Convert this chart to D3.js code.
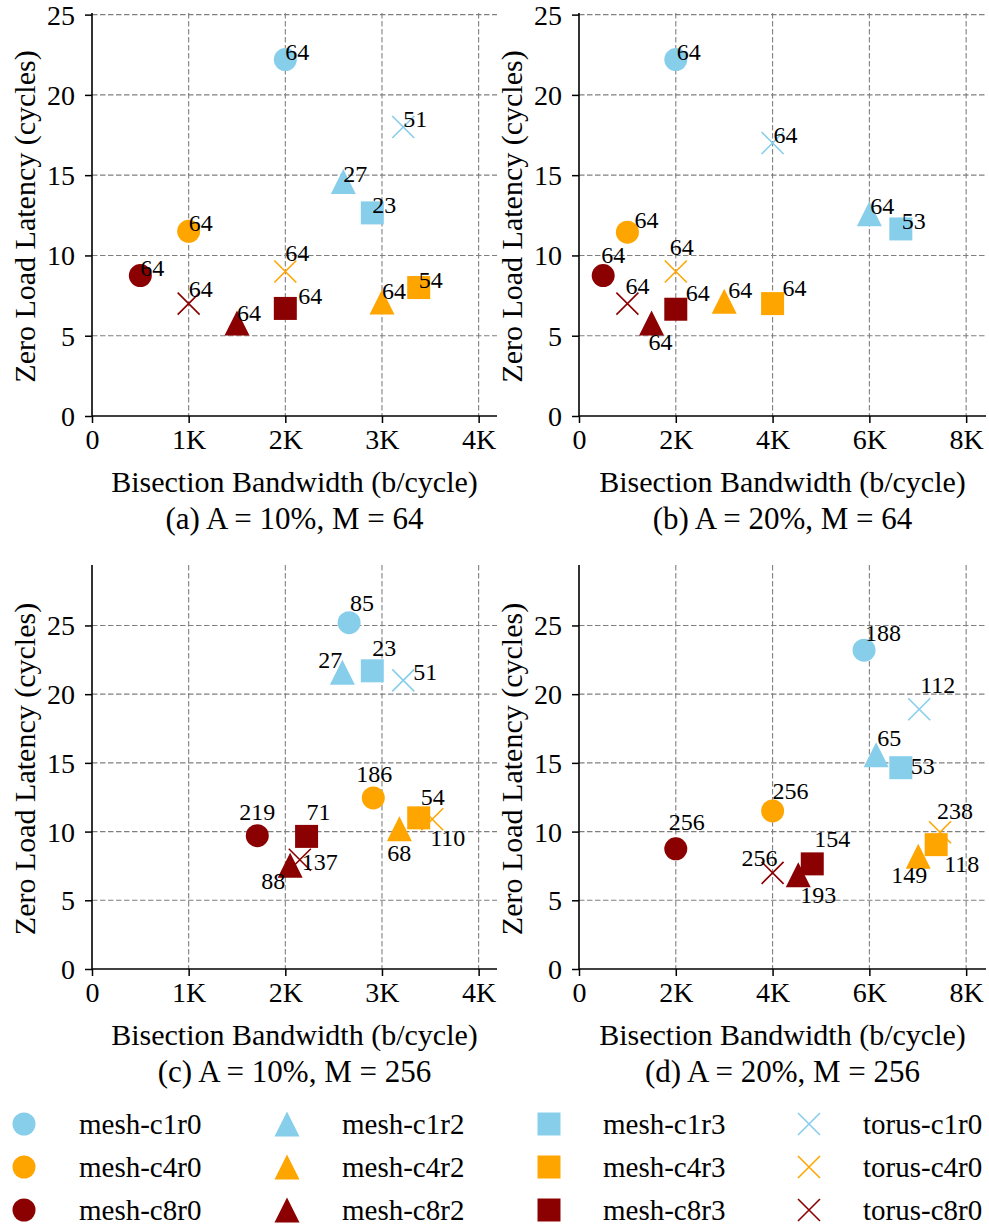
<!DOCTYPE html>
<html>
<head>
<meta charset="utf-8">
<script src="https://cdn.jsdelivr.net/npm/d3@7"></script>
<style>
  html, body { margin: 0; padding: 0; background: #fff; }
  svg { display: block; font-family: "Liberation Serif", "Times New Roman", serif; }
</style>
</head>
<body>
<svg id="chart" width="989" height="1226"></svg>
<script>
// series, in legend order (column by column)
const seriesNames = [
  'mesh-c1r0', 'mesh-c4r0', 'mesh-c8r0',
  'mesh-c1r2', 'mesh-c4r2', 'mesh-c8r2',
  'mesh-c1r3', 'mesh-c4r3', 'mesh-c8r3',
  'torus-c1r0', 'torus-c4r0', 'torus-c8r0'
];
const seriesColors = [
  '#87ceeb', '#ffa500', '#8b0000',
  '#87ceeb', '#ffa500', '#8b0000',
  '#87ceeb', '#ffa500', '#8b0000',
  '#87ceeb', '#ffa500', '#8b0000'
];
const seriesShapes = [
  'circle', 'circle', 'circle',
  'triangle', 'triangle', 'triangle',
  'square', 'square', 'square',
  'cross', 'cross', 'cross'
];

// (a) A = 10%, M = 64
const bwA  = [2000, 1000, 500, 2600, 3000, 1500, 2900, 3380, 2000, 3220, 2000, 1000];
const latA = [22.2, 11.5, 8.75, 14.6, 7.1, 5.8, 12.65, 8.0, 6.7, 18.0, 9.0, 7.0];
const numA = [64, 64, 64, 27, 64, 64, 23, 54, 64, 51, 64, 64];

// (b) A = 20%, M = 64
const bwB  = [2000, 1000, 500, 6000, 3000, 1500, 6650, 4000, 2000, 4000, 2000, 1000];
const latB = [22.2, 11.45, 8.75, 12.6, 7.15, 5.8, 11.65, 7.0, 6.65, 17.0, 9.0, 7.0];
const numB = [64, 64, 64, 64, 64, 64, 53, 64, 64, 64, 64, 64];

// (c) A = 10%, M = 256
const bwC  = [2660, 2910, 1710, 2590, 3180, 2050, 2900, 3380, 2220, 3220, 3520, 2150];
const latC = [25.2, 12.45, 9.7, 21.6, 10.2, 7.55, 21.7, 11.0, 9.65, 21.0, 10.9, 7.95];
const numC = [85, 186, 219, 27, 68, 88, 23, 54, 71, 51, 110, 137];

// (d) A = 20%, M = 256
const bwD  = [5890, 4000, 2000, 6140, 7010, 4530, 6650, 7380, 4820, 7030, 7460, 4000];
const latD = [23.2, 11.5, 8.75, 15.6, 8.2, 6.85, 14.65, 9.05, 7.65, 18.9, 9.95, 7.0];
const numD = [188, 256, 256, 65, 149, 193, 53, 118, 154, 112, 238, 256];

const captions = [
  '(a) A = 10%, M = 64', '(b) A = 20%, M = 64',
  '(c) A = 10%, M = 256', '(d) A = 20%, M = 256'
];
const xTicksNarrow = [0, 1000, 2000, 3000, 4000];
const xTicksWide = [0, 2000, 4000, 6000, 8000];
const yTicks = [0, 5, 10, 15, 20, 25];
const xLimits = [4190, 8410, 4190, 8410];
const yLimits = [25.1, 25.1, 29.4, 29.4];

// label nudges in px (dx, dy) so the numbers don't sit on the markers
const nudgeA = [[0,0],[0,0],[0,0],[0,0],[0,-3],[0,-2],[0,0],[0,0],[13,-4],[0,0],[0,-10],[0,-7]];
const nudgeB = [[1,0],[7,-4],[-2,-13],[1,0],[4,-3],[-3,27],[1,0],[10,-8],[10,-8],[1,0],[-6,-16],[-2,-10]];
const nudgeC = [[1,-12],[-17,-16],[-18,-16],[-24,-4],[-12,32],[-29,24],[0,-15],[2,-13],[0,-16],[10,0],[-2,27],[2,10]];
const nudgeD = [[1,-9],[0,-12],[-7,-19],[1,-9],[-27,27],[2,28],[10,6],[8,27],[2,-17],[1,-16],[-3,-13],[-31,-7]];

const panels = [
  { bw: bwA, lat: latA, num: numA, nudge: nudgeA, xTicks: xTicksNarrow, x0: 92,  x1: 497, y0: 13,  y1: 416 },
  { bw: bwB, lat: latB, num: numB, nudge: nudgeB, xTicks: xTicksWide,   x0: 579, x1: 986, y0: 13,  y1: 416 },
  { bw: bwC, lat: latC, num: numC, nudge: nudgeC, xTicks: xTicksNarrow, x0: 92,  x1: 497, y0: 565, y1: 969 },
  { bw: bwD, lat: latD, num: numD, nudge: nudgeD, xTicks: xTicksWide,   x0: 579, x1: 986, y0: 565, y1: 969 }
];

// matplotlib-like marker shapes; size = (bounding box side)^2
const shapeTypes = {
  circle: d3.symbolCircle,
  square: { draw(ctx, size) { const r = Math.sqrt(size) / 2; ctx.rect(-r, -r, 2 * r, 2 * r); } },
  triangle: { draw(ctx, size) {
    const r = Math.sqrt(size) / 2;
    ctx.moveTo(0, -r); ctx.lineTo(r, r); ctx.lineTo(-r, r); ctx.closePath();
  } },
  cross: { draw(ctx, size) {
    const r = Math.sqrt(size) / 2;
    ctx.moveTo(-r, -r); ctx.lineTo(r, r); ctx.moveTo(-r, r); ctx.lineTo(r, -r);
  } }
};
const shapeSize = { circle: Math.PI * 11.5 * 11.5, square: 23 * 23, triangle: 25 * 25, cross: 22 * 22 };

function markerPath(shape) {
  return d3.symbol().type(shapeTypes[shape]).size(shapeSize[shape])();
}

function drawMarker(g, shape, color, x, y) {
  const p = g.append('path')
    .attr('d', markerPath(shape))
    .attr('transform', `translate(${x},${y})`);
  if (shape === 'cross') {
    p.attr('fill', 'none').attr('stroke', color).attr('stroke-width', 1.6);
  } else {
    p.attr('fill', color);
  }
}

const svg = d3.select('#chart');
const kFormat = d => d === 0 ? '0' : `${d / 1000}K`;

panels.forEach((p, pi) => {
  const x = d3.scaleLinear().domain([0, xLimits[pi]]).range([p.x0, p.x1]);
  const y = d3.scaleLinear().domain([0, yLimits[pi]]).range([p.y1, p.y0]);
  const g = svg.append('g');

  // grid
  const grid = g.append('g')
    .attr('stroke', '#808080')
    .attr('stroke-width', 1.1)
    .attr('stroke-dasharray', '5.5,2.5');
  grid.selectAll('line.v')
    .data(p.xTicks.filter(d => d > 0))
    .join('line')
    .attr('x1', d => x(d)).attr('x2', d => x(d))
    .attr('y1', p.y0).attr('y2', p.y1);
  grid.selectAll('line.h')
    .data(yTicks.filter(d => d > 0))
    .join('line')
    .attr('x1', p.x0).attr('x2', p.x1)
    .attr('y1', d => y(d)).attr('y2', d => y(d));

  // axes
  const xAxis = d3.axisBottom(x).tickValues(p.xTicks).tickFormat(kFormat).tickSize(7).tickPadding(5);
  const yAxis = d3.axisLeft(y).tickValues(yTicks).tickSize(7).tickPadding(8);
  const gx = g.append('g').attr('transform', `translate(0,${p.y1})`).call(xAxis);
  const gy = g.append('g').attr('transform', `translate(${p.x0},0)`).call(yAxis);
  [gx, gy].forEach(a => {
    a.select('.domain').remove();
    a.selectAll('.tick line').attr('stroke', '#000').attr('stroke-width', 1.5);
    a.selectAll('.tick text')
      .attr('fill', '#000')
      .style('font-family', '"Liberation Serif", "Times New Roman", serif')
      .style('font-size', '28px');
  });
  gx.selectAll('.tick text').attr('dy', null).attr('y', 33);
  gy.selectAll('.tick text').attr('dy', '0.34em').attr('x', -17);

  g.append('line')
    .attr('x1', p.x0).attr('x2', p.x1).attr('y1', p.y1).attr('y2', p.y1)
    .attr('stroke', '#000').attr('stroke-width', 1.6);
  g.append('line')
    .attr('x1', p.x0).attr('x2', p.x0).attr('y1', p.y0).attr('y2', p.y1)
    .attr('stroke', '#000').attr('stroke-width', 1.6);

  // axis titles and caption
  const cx = (p.x0 + p.x1) / 2;
  g.append('text')
    .attr('x', cx).attr('y', p.y1 + 76)
    .attr('text-anchor', 'middle')
    .style('font-size', '30px')
    .text('Bisection Bandwidth (b/cycle)');
  g.append('text')
    .attr('x', cx).attr('y', p.y1 + 113)
    .attr('text-anchor', 'middle')
    .style('font-size', '31px')
    .text(captions[pi]);
  g.append('text')
    .attr('transform', `translate(${p.x0 - 57},${(p.y0 + p.y1) / 2 + 2}) rotate(-90)`)
    .attr('text-anchor', 'middle')
    .style('font-size', '30px')
    .text('Zero Load Latency (cycles)');

  // points
  const marks = g.append('g');
  seriesNames.forEach((name, i) => {
    drawMarker(marks, seriesShapes[i], seriesColors[i], x(p.bw[i]), y(p.lat[i]));
  });

  // counts
  g.append('g')
    .selectAll('text')
    .data(seriesNames.map((name, i) => i))
    .join('text')
    .attr('x', i => x(p.bw[i]) + p.nudge[i][0])
    .attr('y', i => y(p.lat[i]) + p.nudge[i][1])
    .style('font-size', '24px')
    .attr('fill', '#000')
    .text(i => p.num[i]);
});

// legend, 4 columns x 3 rows
const legendMarkX = [24, 287, 549, 809];
const legendTextX = [79, 342, 603, 863];
const legendRowY = [1124, 1167, 1210];
const legend = svg.append('g');
seriesNames.forEach((name, i) => {
  const col = Math.floor(i / 3), row = i % 3;
  drawMarker(legend, seriesShapes[i], seriesColors[i], legendMarkX[col], legendRowY[row]);
  legend.append('text')
    .attr('x', legendTextX[col])
    .attr('y', legendRowY[row] + 10)
    .style('font-size', '29px')
    .text(name);
});
</script>
</body>
</html>
